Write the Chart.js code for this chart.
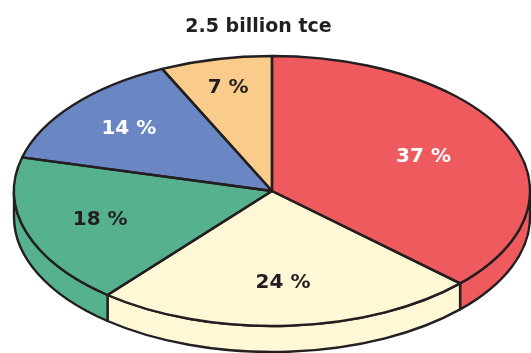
<!DOCTYPE html>
<html>
<head>
<meta charset="utf-8">
<script src="https://cdn.jsdelivr.net/npm/chart.js@4.4.1/dist/chart.umd.min.js"></script>
<style>
  html, body { margin: 0; padding: 0; background: #fff; }
  #wrap { width: 531px; height: 353px; position: relative; }
</style>
</head>
<body>
<div id="wrap"><canvas id="pieChart"></canvas></div>
<script>
const chartTitle = "2.5 billion tce";
const shares = [37, 24, 18, 14, 7];
const shareLabels = ["37 %", "24 %", "18 %", "14 %", "7 %"];
const sliceColors = ["#EE5A5D", "#FFF8D6", "#56B28E", "#6A87C4", "#FACC8C"];
const labelColors = ["#ffffff", "#231f20", "#231f20", "#ffffff", "#231f20"];
// how far out each label sits, as a share of the radius
const labelRadius = [0.64, 0.68, 0.70, 0.72, 0.78];

// the flat pie gets squashed into this ellipse, with a wall of DEPTH px
const CX = 272, CY = 191, RX = 258, RY = 135, DEPTH = 26;
const INK = "#231f20";
const LINE = 2.4;

const tiltPlugin = {
  id: "tilt",
  beforeDatasetsDraw(chart) {
    const ctx = chart.ctx;
    const arcs = chart.getDatasetMeta(0).data;

    // side wall, only the front half shows
    ctx.save();
    ctx.lineWidth = LINE;
    ctx.strokeStyle = INK;
    ctx.lineJoin = "round";
    arcs.forEach(arc => {
      const a0 = Math.max(arc.startAngle, 0);
      const a1 = Math.min(arc.endAngle, Math.PI);
      if (a0 >= a1) return;
      ctx.beginPath();
      ctx.ellipse(CX, CY, RX, RY, 0, a0, a1);
      ctx.lineTo(CX + RX * Math.cos(a1), CY + DEPTH + RY * Math.sin(a1));
      ctx.ellipse(CX, CY + DEPTH, RX, RY, 0, a1, a0, true);
      ctx.closePath();
      ctx.fillStyle = arc.options.backgroundColor;
      ctx.fill();
      ctx.stroke();
    });
    ctx.restore();

    // squash the library's circle into the ellipse
    const first = arcs[0];
    const r = first.outerRadius;
    ctx.save();
    ctx.translate(CX, CY);
    ctx.scale(RX / r, RY / r);
    ctx.translate(-first.x, -first.y);
  },
  afterDatasetsDraw(chart) {
    const ctx = chart.ctx;
    ctx.restore();
    const arcs = chart.getDatasetMeta(0).data;

    // outlines drawn unscaled so the stroke stays even
    ctx.save();
    ctx.lineWidth = LINE;
    ctx.strokeStyle = INK;
    ctx.lineJoin = "round";
    arcs.forEach(arc => {
      ctx.beginPath();
      ctx.moveTo(CX, CY);
      ctx.ellipse(CX, CY, RX, RY, 0, arc.startAngle, arc.endAngle);
      ctx.closePath();
      ctx.stroke();
    });

    // percent labels
    ctx.font = "bold 20px 'DejaVu Sans', sans-serif";
    ctx.textAlign = "center";
    ctx.textBaseline = "middle";
    arcs.forEach((arc, i) => {
      const mid = (arc.startAngle + arc.endAngle) / 2;
      const x = CX + RX * labelRadius[i] * Math.cos(mid);
      const y = CY + RY * labelRadius[i] * Math.sin(mid);
      ctx.fillStyle = labelColors[i];
      ctx.fillText(shareLabels[i], x, y);
    });
    ctx.restore();
  }
};

new Chart(document.getElementById("pieChart"), {
  type: "pie",
  data: {
    labels: shareLabels,
    datasets: [{
      data: shares,
      backgroundColor: sliceColors,
      borderWidth: 0
    }]
  },
  options: {
    responsive: true,
    maintainAspectRatio: false,
    animation: false,
    layout: { padding: { right: 14 } },
    plugins: {
      legend: { display: false },
      tooltip: { enabled: false },
      title: {
        display: true,
        text: chartTitle,
        color: INK,
        font: { family: "'DejaVu Sans', sans-serif", size: 19, weight: "bold" },
        padding: { top: 16, bottom: 10 }
      }
    }
  },
  plugins: [tiltPlugin]
});
</script>
</body>
</html>
